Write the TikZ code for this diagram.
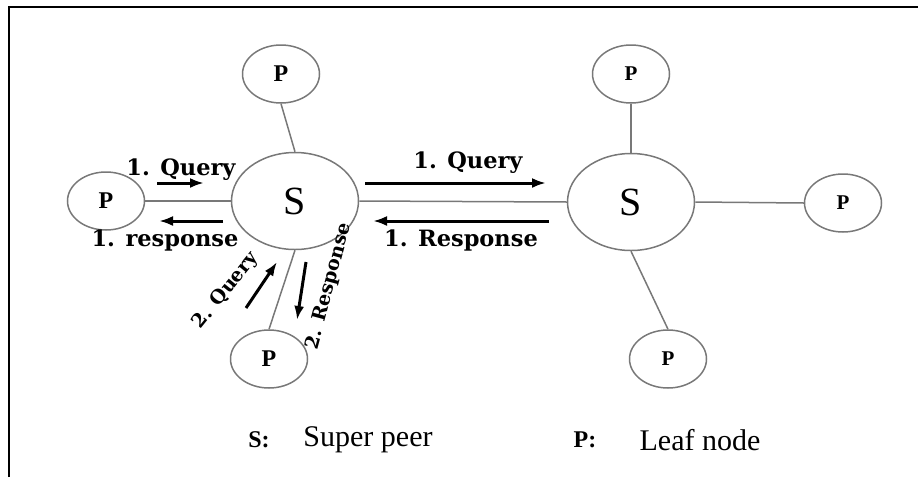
\documentclass[tikz,border=0pt]{standalone}
\usepackage{fontspec}
\setmainfont{Liberation Serif}
\newfontfamily\msgfont{DejaVu Serif}
\usetikzlibrary{shapes.geometric,arrows.meta}
\definecolor{linegray}{HTML}{787878}

\begin{document}
\begin{tikzpicture}[x=1pt,y=-1pt,
  superpeer/.style={ellipse, draw=linegray, line width=1.5pt, minimum width=127pt,
    minimum height=97pt, inner sep=0pt, font=\fontsize{40}{40}\selectfont},
  leaf/.style={ellipse, draw=linegray, line width=1.5pt, minimum width=77pt,
    minimum height=58pt, inner sep=0pt, font=\bfseries\fontsize{24}{24}\selectfont},
  leafsmall/.style={leaf, font=\bfseries\fontsize{21}{21}\selectfont},
  link/.style={draw=linegray, line width=1.5pt},
  msg/.style={-{Latex[length=14pt,width=10pt]}, line width=3pt},
  msglabel/.style={font=\msgfont\bfseries\fontsize{22.5}{22.5}\selectfont, inner sep=0pt},
  msglabelsmall/.style={font=\msgfont\bfseries\fontsize{19}{19}\selectfont, inner sep=0pt},
  legend/.style={font=\fontsize{30}{30}\selectfont, inner sep=0pt},
  legendkey/.style={font=\bfseries\fontsize{24}{24}\selectfont, inner sep=0pt}]

\useasboundingbox (0,0) rectangle (918,477);

% open frame: top and left edges only
\draw[line width=2pt] (9,477) -- (9,7) -- (918,7);

% super peers
\node[superpeer] (sL) at (295,201) {S};
\node[superpeer] (sR) at (631,202) {S};

% leaf nodes
\node[leaf] (pL)  at (106,201) {P};
\node[leaf] (pTL) at (281,74)  {P};
\node[leaf] (pBL) at (269,359) {P};
\node[leafsmall] (pTR) at (631,74)  {P};
\node[leafsmall] (pR)  at (843,203) {P};
\node[leafsmall] (pBR) at (668,359) {P};

% links
\draw[link] (pL.east) -- (sL.west);
\draw[link] (pTL.south) -- (sL.north);
\draw[link] (pBL.north) -- (sL.south);
\draw[link] (sL.east) -- (sR.west);
\draw[link] (pTR.south) -- (sR.north);
\draw[link] (sR.east) -- (pR.west);
\draw[link] (sR.south) -- (pBR.north);

% message arrows
\coordinate (qLa) at (157,183); \coordinate (qLb) at (204,183);
\coordinate (rLa) at (223,221); \coordinate (rLb) at (159,221);
\coordinate (qRa) at (365,183); \coordinate (qRb) at (546,183);
\coordinate (rRa) at (549,221); \coordinate (rRb) at (373,221);
\coordinate (q2a) at (246,308); \coordinate (q2b) at (277,262);
\coordinate (r2a) at (306,262); \coordinate (r2b) at (297,320);

\draw[msg] (qLa) -- (qLb);
\draw[msg] (rLa) -- (rLb);
\draw[msg] (qRa) -- (qRb);
\draw[msg] (rRa) -- (rRb);
\draw[msg] (q2a) -- (q2b);
\draw[msg] (r2a) -- (r2b);

% message labels
\node[msglabel] (tqL) at (181,170) {1. Query};
\node[msglabel] (trL) at (165,240) {1. response};
\node[msglabel] (tqR) at (468,163) {1. Query};
\node[msglabel] (trR) at (461,240) {1. Response};
\node[msglabelsmall, rotate=51] (tq2) at (226,291) {2. Query};
\node[msglabelsmall, rotate=75] (tr2) at (329,286) {2. Response};

% legend
\node[legendkey] (kS) at (259,440) {S:};
\node[legend]    (lS) at (368,440) {Super peer};
\node[legendkey] (kP) at (585,440) {P:};
\node[legend]    (lP) at (700,440) {Leaf node};
\end{tikzpicture}
\end{document}
